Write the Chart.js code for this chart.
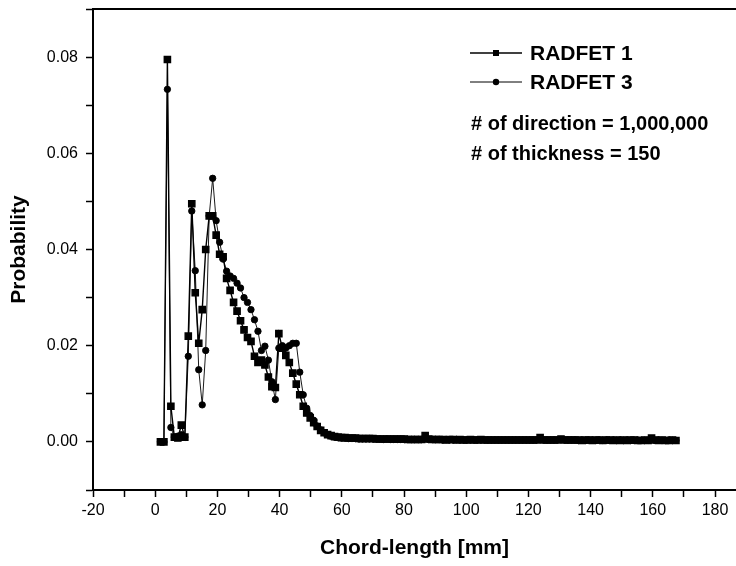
<!DOCTYPE html>
<html>
<head>
<meta charset="utf-8">
<script src="https://cdn.jsdelivr.net/npm/chart.js@4"></script>
<style>
  body { margin: 0; background: #fff; }
  .wrap { position: relative; width: 736px; height: 566px; font-family: "Liberation Sans", Arial, sans-serif; }
  .legend { position: absolute; left: 468px; top: 38px; font-weight: bold; color: #000; }
  .legend .row { display: flex; align-items: center; height: 29px; font-size: 21px; }
  .legend svg { margin-right: 6px; }
  .note { position: absolute; left: 471px; font-size: 20px; font-weight: bold; color: #000; white-space: nowrap; }
</style>
</head>
<body>
<div class="wrap">
  <canvas id="chart" width="736" height="566"></canvas>
  <div class="legend">
    <div class="row"><svg width="56" height="12"><line x1="2" y1="6" x2="54" y2="6" stroke="#000" stroke-width="1.5"/><rect x="25" y="3" width="6" height="6" fill="#000"/></svg>RADFET 1</div>
    <div class="row"><svg width="56" height="12"><line x1="2" y1="6" x2="54" y2="6" stroke="#000" stroke-width="1"/><circle cx="28" cy="6" r="3.2" fill="#000"/></svg>RADFET 3</div>
  </div>
  <div class="note" style="top:112px"># of direction = 1,000,000</div>
  <div class="note" style="top:142px"># of thickness = 150</div>
</div>
<script>
// Distribución de longitud de cuerda, RADFET 1 vs RADFET 3.
const chordLength = [
  1.68, 2.80, 3.92, 5.04, 6.16, 7.28, 8.40, 9.52, 10.64, 11.76,
  12.88, 14.00, 15.12, 16.24, 17.36, 18.48, 19.60, 20.72, 21.84, 22.96,
  24.08, 25.20, 26.32, 27.44, 28.56, 29.68, 30.80, 31.92, 33.04, 34.16,
  35.28, 36.40, 37.52, 38.64, 39.76, 40.88, 42.00, 43.12, 44.24, 45.36,
  46.48, 47.60, 48.72, 49.84, 50.96, 52.08, 53.20, 54.32, 55.44, 56.56,
  57.68, 58.80, 59.92, 61.04, 62.16, 63.28, 64.40, 65.52, 66.64, 67.76,
  68.88, 70.00, 71.12, 72.24, 73.36, 74.48, 75.60, 76.72, 77.84, 78.96,
  80.08, 81.20, 82.32, 83.44, 84.56, 85.68, 86.80, 87.92, 89.04, 90.16,
  91.28, 92.40, 93.52, 94.64, 95.76, 96.88, 98.00, 99.12, 100.24, 101.36,
  102.48, 103.60, 104.72, 105.84, 106.96, 108.08, 109.20, 110.32, 111.44, 112.56,
  113.68, 114.80, 115.92, 117.04, 118.16, 119.28, 120.40, 121.52, 122.64, 123.76,
  124.88, 126.00, 127.12, 128.24, 129.36, 130.48, 131.60, 132.72, 133.84, 134.96,
  136.08, 137.20, 138.32, 139.44, 140.56, 141.68, 142.80, 143.92, 145.04, 146.16,
  147.28, 148.40, 149.52, 150.64, 151.76, 152.88, 154.00, 155.12, 156.24, 157.36,
  158.48, 159.60, 160.72, 161.84, 162.96, 164.08, 165.20, 166.32, 167.44
];

const radfet1 = [
  0, 0, 0.0795, 0.0074, 0.0010, 0.0008, 0.0035, 0.0010, 0.0220, 0.0495,
  0.0310, 0.0205, 0.0275, 0.0400, 0.0470, 0.0470, 0.0430, 0.0390, 0.0385, 0.0340,
  0.0315, 0.0290, 0.0272, 0.0252, 0.0233, 0.0217, 0.0209, 0.0178, 0.0165, 0.0170,
  0.0160, 0.0135, 0.0115, 0.0113, 0.0225, 0.0195, 0.0180, 0.0165, 0.0143, 0.0120,
  0.0098, 0.0074, 0.0060, 0.0050, 0.0040, 0.0032, 0.0024, 0.0019, 0.0015, 0.0013,
  0.0011, 0.0010, 0.0009, 0.0009, 0.0008, 0.0008, 0.0008, 0.0007, 0.0007, 0.0007,
  0.0007, 0.0007, 0.0006, 0.0006, 0.0006, 0.0006, 0.0006, 0.0006, 0.0006, 0.0006,
  0.0006, 0.0005, 0.0005, 0.0005, 0.0005, 0.0005, 0.0013, 0.0006, 0.0005, 0.0005,
  0.0005, 0.0005, 0.0004, 0.0005, 0.0005, 0.0004, 0.0005, 0.0004, 0.0004, 0.0005,
  0.0004, 0.0004, 0.0005, 0.0004, 0.0004, 0.0004, 0.0004, 0.0004, 0.0004, 0.0004,
  0.0004, 0.0004, 0.0004, 0.0004, 0.0004, 0.0004, 0.0004, 0.0004, 0.0004, 0.0009,
  0.0004, 0.0004, 0.0004, 0.0004, 0.0004, 0.0006, 0.0004, 0.0004, 0.0004, 0.0004,
  0.0004, 0.0003, 0.0004, 0.0004, 0.0003, 0.0004, 0.0004, 0.0003, 0.0004, 0.0004,
  0.0003, 0.0004, 0.0003, 0.0004, 0.0003, 0.0004, 0.0004, 0.0003, 0.0003, 0.0004,
  0.0003, 0.0008, 0.0004, 0.0003, 0.0004, 0.0003, 0.0003, 0.0004, 0.0003
];

const radfet3 = [
  0, 0, 0.0733, 0.0030, 0.0010, 0.0012, 0.0015, 0.0010, 0.0178, 0.0480,
  0.0356, 0.0150, 0.0077, 0.0190, 0.0470, 0.0548, 0.0460, 0.0415, 0.0380, 0.0355,
  0.0345, 0.0340, 0.0330, 0.0320, 0.0300, 0.0290, 0.0275, 0.0254, 0.0230, 0.0190,
  0.0199, 0.0170, 0.0125, 0.0088, 0.0195, 0.0200, 0.0195, 0.0200, 0.0205, 0.0205,
  0.0145, 0.0098, 0.0070, 0.0055, 0.0045, 0.0033, 0.0025, 0.0019, 0.0015, 0.0012,
  0.0010, 0.0009, 0.0008, 0.0008, 0.0007, 0.0007, 0.0007, 0.0006, 0.0006, 0.0006,
  0.0006, 0.0006, 0.0006, 0.0006, 0.0005, 0.0006, 0.0005, 0.0005, 0.0005, 0.0005,
  0.0005, 0.0005, 0.0005, 0.0005, 0.0005, 0.0005, 0.0008, 0.0005, 0.0005, 0.0005,
  0.0005, 0.0004, 0.0005, 0.0004, 0.0004, 0.0005, 0.0004, 0.0004, 0.0004, 0.0004,
  0.0004, 0.0004, 0.0004, 0.0004, 0.0004, 0.0004, 0.0004, 0.0004, 0.0004, 0.0004,
  0.0004, 0.0004, 0.0004, 0.0004, 0.0004, 0.0004, 0.0004, 0.0004, 0.0004, 0.0006,
  0.0004, 0.0004, 0.0004, 0.0004, 0.0004, 0.0005, 0.0004, 0.0004, 0.0004, 0.0004,
  0.0003, 0.0004, 0.0003, 0.0004, 0.0004, 0.0003, 0.0004, 0.0003, 0.0004, 0.0003,
  0.0004, 0.0003, 0.0004, 0.0003, 0.0004, 0.0003, 0.0003, 0.0004, 0.0003, 0.0003,
  0.0003, 0.0006, 0.0003, 0.0004, 0.0003, 0.0003, 0.0004, 0.0003, 0.0003
];

const xTickLabels = [-20, 0, 20, 40, 60, 80, 100, 120, 140, 160, 180];
const yTickLabels = ["0.00", "0.02", "0.04", "0.06", "0.08"];

const FONT = "'Liberation Sans', Arial, sans-serif";
const toPoints = (ys) => ys.map((y, i) => ({ x: chordLength[i], y }));
const fmtY = (v) => (Math.round(v * 100) / 100 + 0).toFixed(2);

new Chart("chart", {
  type: "line",
  data: {
    datasets: [
      { label: "RADFET 3", data: toPoints(radfet3), borderColor: "#000", backgroundColor: "#000",
        borderWidth: 0.9, pointStyle: "circle", pointRadius: 3.2, tension: 0 },
      { label: "RADFET 1", data: toPoints(radfet1), borderColor: "#000", backgroundColor: "#000",
        borderWidth: 1.4, pointStyle: "rect", pointRadius: 4.4, tension: 0 },
    ],
  },
  options: {
    responsive: false,
    animation: false,
    layout: { autoPadding: false, padding: { top: 9, left: 0, right: 0, bottom: 0 } },
    plugins: { legend: { display: false }, tooltip: { enabled: false } },
    scales: {
      x: {
        type: "linear", min: -20, max: 186.75,
        border: { color: "#000", width: 2 },
        grid: { drawOnChartArea: false, color: "#000", tickColor: "#000", tickLength: 7, tickWidth: 1.5 },
        ticks: { stepSize: 10, includeBounds: false, autoSkip: false, maxRotation: 0, padding: 4, color: "#000",
          font: { family: FONT, size: 16 },
          callback: (v) => (xTickLabels.includes(v) ? String(v) : "") },
        title: { display: true, text: "Chord-length [mm]", color: "#000",
          font: { family: FONT, size: 21, weight: "bold" }, padding: { top: 0, bottom: 5 } },
        afterFit: (s) => { s.height = 76; s.paddingLeft = 0; s.paddingRight = 0; },
      },
      xTop: {
        type: "linear", position: "top", min: -20, max: 186.75,
        border: { color: "#000", width: 2 },
        grid: { drawOnChartArea: false, drawTicks: false },
        ticks: { display: false },
        afterFit: (s) => { s.height = 0; s.paddingLeft = 0; s.paddingRight = 0; },
      },
      y: {
        min: -0.01, max: 0.09,
        border: { color: "#000", width: 2 },
        grid: { drawOnChartArea: false, color: "#000", tickColor: "#000", tickLength: 7, tickWidth: 1.5 },
        ticks: { stepSize: 0.01, includeBounds: false, autoSkip: false, padding: 8, color: "#000",
          font: { family: FONT, size: 16 },
          callback: (v) => { const s = fmtY(v); return yTickLabels.includes(s) ? s : ""; } },
        title: { display: true, text: "Probability", color: "#000",
          font: { family: FONT, size: 21, weight: "bold" }, padding: { top: 7, bottom: 0 } },
        afterFit: (s) => { s.width = 93; s.paddingTop = 0; s.paddingBottom = 0; },
      },
    },
  },
});
</script>
</body>
</html>
